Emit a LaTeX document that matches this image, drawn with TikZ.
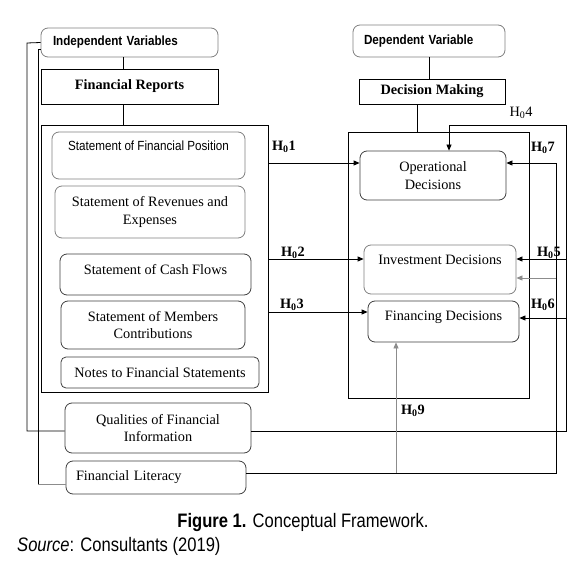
\documentclass[tikz,border=0pt]{standalone}
\usepackage{fontspec}
\setmainfont{Liberation Serif}
\newfontfamily\narrowsans[FakeStretch=0.88]{Liberation Sans}
\newfontfamily\capsans[FakeStretch=0.85]{Liberation Sans}
\usetikzlibrary{arrows.meta}
\newcommand\serifsize{\fontsize{14.3}{17.5}\selectfont}

\tikzset{
  plainbox/.style={draw=black, line width=0.8pt, inner sep=0pt, align=center, font=\serifsize},
  roundbox/.style={plainbox, rounded corners=7pt, draw=black!75},
  greybox/.style={plainbox, rounded corners=7pt, draw=black!50},
  sanstext/.style={font=\narrowsans\fontsize{13.25}{16}\selectfont},
  sanshead/.style={font=\narrowsans\bfseries\fontsize{13.25}{16}\selectfont},
  link/.style={line width=0.8pt},
  greylink/.style={link, draw=black!45},
  arr/.style={link, -{Triangle[length=6pt,width=5pt]}},
  hyp/.style={inner sep=0pt, font=\serifsize\bfseries}
}

\begin{document}
\begin{tikzpicture}[x=1pt,y=-1pt]
  \fill[white] (0,0) rectangle (583,577);
  \useasboundingbox (0,0) rectangle (583,577);

  % independent side
  \node[greybox, sanshead, text width=153pt, align=left,
        minimum width=177pt, minimum height=29pt] (indep) at (129.5,42.5) {Independent Variables};
  \node[plainbox, font=\serifsize\bfseries, minimum width=177pt, minimum height=35pt] (finrep) at (129.5,86.5) {Financial Reports};
  \node[plainbox, minimum width=227pt, minimum height=267pt] (reports) at (154.5,258.5) {};
  \node[greybox, sanstext, minimum width=193pt, text height=19pt, text depth=28pt] (finpos) at (148.5,155.5) {Statement of Financial Position};
  \node[greybox, minimum width=190pt, minimum height=52pt] (revexp) at (150,212) {Statement of Revenues and\\Expenses};
  \node[roundbox, minimum width=191pt, text height=20pt, text depth=21pt] (cashfl) at (155.5,274.5) {Statement of Cash Flows};
  \node[roundbox, minimum width=184pt, minimum height=48pt] (members) at (153,325) {Statement of Members\\Contributions};
  \node[roundbox, rounded corners=5pt, minimum width=198pt, minimum height=31pt] (notes) at (160,372.5) {Notes to Financial Statements};
  \node[roundbox, minimum width=186pt, minimum height=50pt] (qual) at (158,428) {Qualities of Financial\\Information};
  \node[roundbox, text width=160pt, align=left, minimum width=180pt, minimum height=33pt] (lit) at (156,477.5) {Financial Literacy};

  % dependent side
  \node[greybox, sanshead, text width=130pt, align=left,
        minimum width=152pt, minimum height=32pt] (depvar) at (429,41) {Dependent Variable};
  \node[plainbox, font=\serifsize\bfseries, minimum width=146pt, minimum height=25pt] (decmak) at (432,91.5) {Decision Making};
  \node[plainbox, minimum width=181pt, minimum height=266pt] (decisions) at (438.5,265) {};
  \node[roundbox, minimum width=146pt, minimum height=49pt] (opdec) at (433,175.5) {Operational\\Decisions};
  \node[greybox, minimum width=152pt, text height=20pt, text depth=29pt] (invdec) at (440,269.5) {Investment Decisions};
  \node[roundbox, minimum width=151pt, text height=19pt, text depth=22pt] (findec) at (443.5,321.5) {Financing Decisions};

  % turning points
  \coordinate (outl) at (27,43);
  \coordinate (inl) at (38,49);
  \coordinate (qturn) at (566,125);
  \coordinate (lturn) at (556,163);
  \path ([xshift=-6.5pt]indep.south) coordinate (ins)
        ([xshift=-6.5pt]finrep.north) coordinate (frn)
        ([xshift=-6.5pt]finrep.south) coordinate (frs)
        ([xshift=-15pt]decmak.south) coordinate (dms)
        ([yshift=-3pt]qual.east) coordinate (qe)
        ([yshift=-3pt]qual.west) coordinate (qw)
        ([yshift=4.5pt]lit.east) coordinate (le)
        ([yshift=-6.5pt]lit.west) coordinate (lw)
        ([yshift=-6.5pt]indep.west) coordinate (iw)
        ([xshift=16pt]opdec.north) coordinate (h4in)
        ([yshift=12.5pt]opdec.west) coordinate (h1in)
        ([yshift=12.5pt]opdec.east) coordinate (h7in)
        ([yshift=10.5pt]invdec.west) coordinate (h2in)
        ([yshift=10.5pt]invdec.east) coordinate (h5in)
        ([yshift=-8.5pt]invdec.east) coordinate (h8in)
        ([yshift=9.5pt]findec.west) coordinate (h3in)
        ([yshift=3.5pt]findec.east) coordinate (h6in)
        ([xshift=-47.5pt]findec.south) coordinate (h9in);

  % hierarchy lines
  \draw[link] (ins) -- (frn);
  \draw[link] (frs) -- (frs |- reports.north);
  \draw[link] (depvar.south) -- (depvar.south |- decmak.north);
  \draw[link] (dms) -- (dms |- decisions.north);

  % left side lines
  \draw[link] (indep.west) -- (outl) |- (qw);
  \draw[link] (iw) -- (inl) -- (inl |- lw);
  \draw[greylink] (inl |- lw) -- (lw);

  % hypotheses
  \draw[arr] (reports.east |- h1in) -- (h1in);
  \draw[arr] (reports.east |- h2in) -- (h2in);
  \draw[arr] (reports.east |- h3in) -- (h3in);
  \draw[arr] (qe) -| (qturn) -| (h4in);
  \draw[arr] (qturn |- h5in) -- (h5in);
  \draw[arr] (qturn |- h6in) -- (h6in);
  \draw[arr] (le) -| (lturn) -- (h7in);
  \draw[arr, greylink] (lturn |- h8in) -- (h8in);
  \draw[arr, greylink] (h9in |- le) -- (h9in);

  \node[hyp] (l1) at (284,147) {H\textsubscript{0}1};
  \node[hyp] (l2) at (293,253) {H\textsubscript{0}2};
  \node[hyp] (l3) at (292,305) {H\textsubscript{0}3};
  \node[hyp, font=\serifsize] (l4) at (521,113) {H\textsubscript{0}4};
  \node[hyp] (l5) at (549,253) {H\textsubscript{0}5};
  \node[hyp] (l6) at (543,305) {H\textsubscript{0}6};
  \node[hyp] (l7) at (543,148) {H\textsubscript{0}7};
  \node[hyp] (l9) at (413,411) {H\textsubscript{0}9};

  % caption
  \node[font=\capsans\fontsize{19.5}{23}\selectfont] (figcap) at (303,522) {\textbf{Figure 1.} Conceptual Framework.};
  \node[font=\capsans\fontsize{19.5}{23}\selectfont, anchor=west, inner sep=0pt] (source) at (17,546) {\textit{Source}: Consultants (2019)};
\end{tikzpicture}
\end{document}
